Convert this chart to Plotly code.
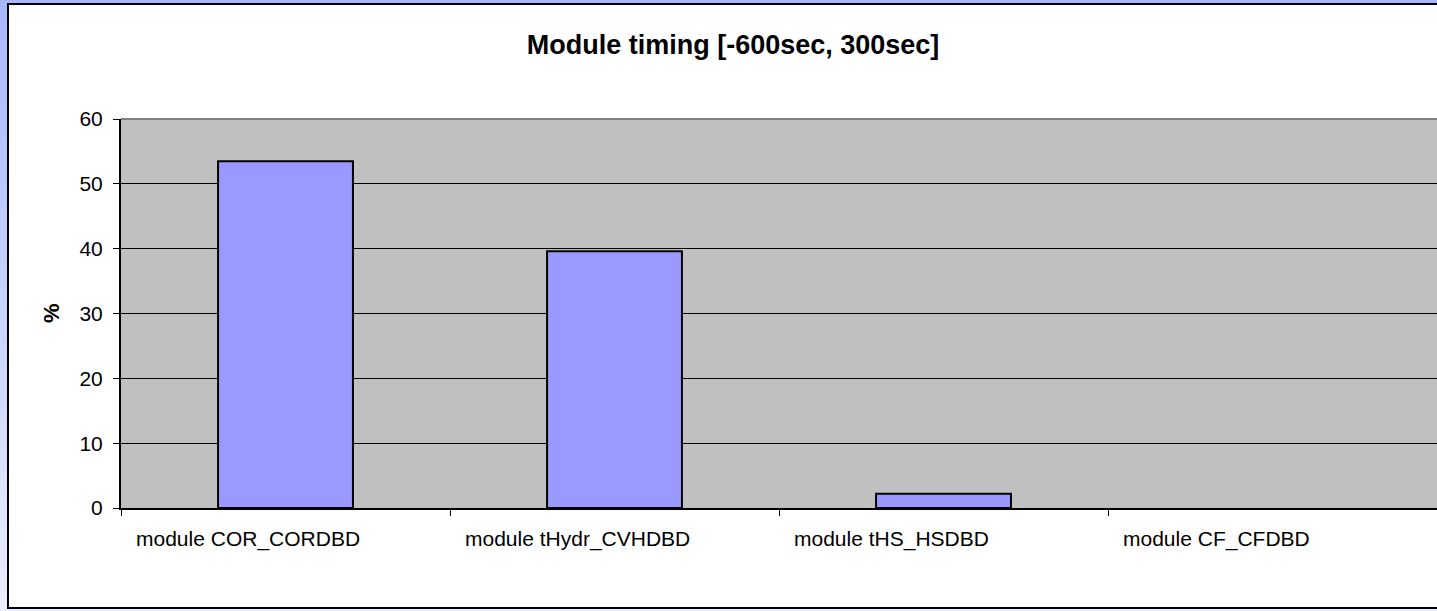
import plotly.graph_objects as go

# Module timing data
categories = ["module COR_CORDBD", "module tHydr_CVHDBD", "module tHS_HSDBD", "module CF_CFDBD"]
percent = [53.5, 39.6, 2.2, 0.0]
y_ticks = [0, 10, 20, 30, 40, 50, 60]

W, H = 1437, 611
L, R, T, B = 121, 0, 119, 103
pw, ph = W - L - R, H - T - B

def px_x(x):
    return (x - L) / pw

def px_y(y):
    return (H - B - y) / ph

FONT = "Liberation Sans, Arial, sans-serif"

fig = go.Figure()
fig.add_trace(go.Bar(
    x=list(range(len(categories))),
    y=percent,
    width=0.41,
    marker=dict(color="#9999FF",
                line=dict(color="#000000", width=[2 if v > 0 else 0 for v in percent])),
    hoverinfo="x+y",
))

shapes = []
# light blue gradient frame
n_bands = 30
top_rgb = (166, 184, 255)
bot_rgb = (232, 238, 255)
for i in range(n_bands):
    f = i / (n_bands - 1)
    c = tuple(round(top_rgb[k] + (bot_rgb[k] - top_rgb[k]) * f) for k in range(3))
    y0 = H * i / n_bands
    y1 = H * (i + 1) / n_bands + 1
    shapes.append(dict(type="rect", xref="paper", yref="paper",
                       x0=px_x(0), x1=px_x(W + 5), y0=px_y(y1), y1=px_y(y0),
                       fillcolor="rgb(%d,%d,%d)" % c, line=dict(width=0), layer="below"))
# white chart area with black border
shapes.append(dict(type="rect", xref="paper", yref="paper",
                   x0=px_x(8), x1=px_x(W + 10), y0=px_y(608), y1=px_y(4),
                   fillcolor="#FFFFFF", line=dict(color="#000000", width=2), layer="below"))
# grey plot area
shapes.append(dict(type="rect", xref="paper", yref="paper",
                   x0=0, x1=1.01, y0=0, y1=1,
                   fillcolor="#C0C0C0", line=dict(width=0), layer="below"))
# plot area top border
shapes.append(dict(type="line", xref="paper", yref="paper",
                   x0=0, x1=1.01, y0=1, y1=1,
                   line=dict(color="#808080", width=2), layer="above"))

annotations = []
for i, name in enumerate(categories):
    annotations.append(dict(x=i - 0.5, y=px_y(539), xref="x", yref="paper",
                            text=name, showarrow=False, xanchor="left", yanchor="middle",
                            xshift=13, font=dict(family=FONT, size=21, color="#000000")))
annotations.append(dict(x=px_x(51), y=px_y(313), xref="paper", yref="paper",
                        text="<b>%</b>", showarrow=False, textangle=-90,
                        xanchor="center", yanchor="middle",
                        font=dict(family=FONT, size=22, color="#000000")))

fig.update_layout(
    width=W, height=H,
    margin=dict(l=L, r=R, t=T, b=B, pad=0),
    paper_bgcolor="#C5D2FA",
    plot_bgcolor="rgba(0,0,0,0)",
    showlegend=False,
    title=dict(text="<b>Module timing [-600sec, 300sec]</b>",
               x=733 / W, xanchor="center", xref="container",
               y=1 - 45 / H, yanchor="middle", yref="container",
               font=dict(family=FONT, size=27, color="#000000")),
    xaxis=dict(range=[-0.5, len(categories) - 0.5], tickmode="array",
               tickvals=[i - 0.5 for i in range(len(categories) + 1)],
               showticklabels=False, ticks="outside", ticklen=6,
               tickcolor="#000000", tickwidth=1,
               showgrid=False, zeroline=False,
               showline=True, linecolor="#000000", linewidth=2),
    yaxis=dict(range=[0, 60], tickvals=y_ticks, ticks="outside", ticklen=6,
               tickcolor="#000000", tickwidth=1,
               showgrid=True, gridcolor="#000000", gridwidth=1,
               zeroline=False, showline=True, linecolor="#000000", linewidth=2,
               tickfont=dict(family=FONT, size=21, color="#000000"),
               ticklabelstandoff=6),
    shapes=shapes,
    annotations=annotations,
)

fig.write_html("out.html")
